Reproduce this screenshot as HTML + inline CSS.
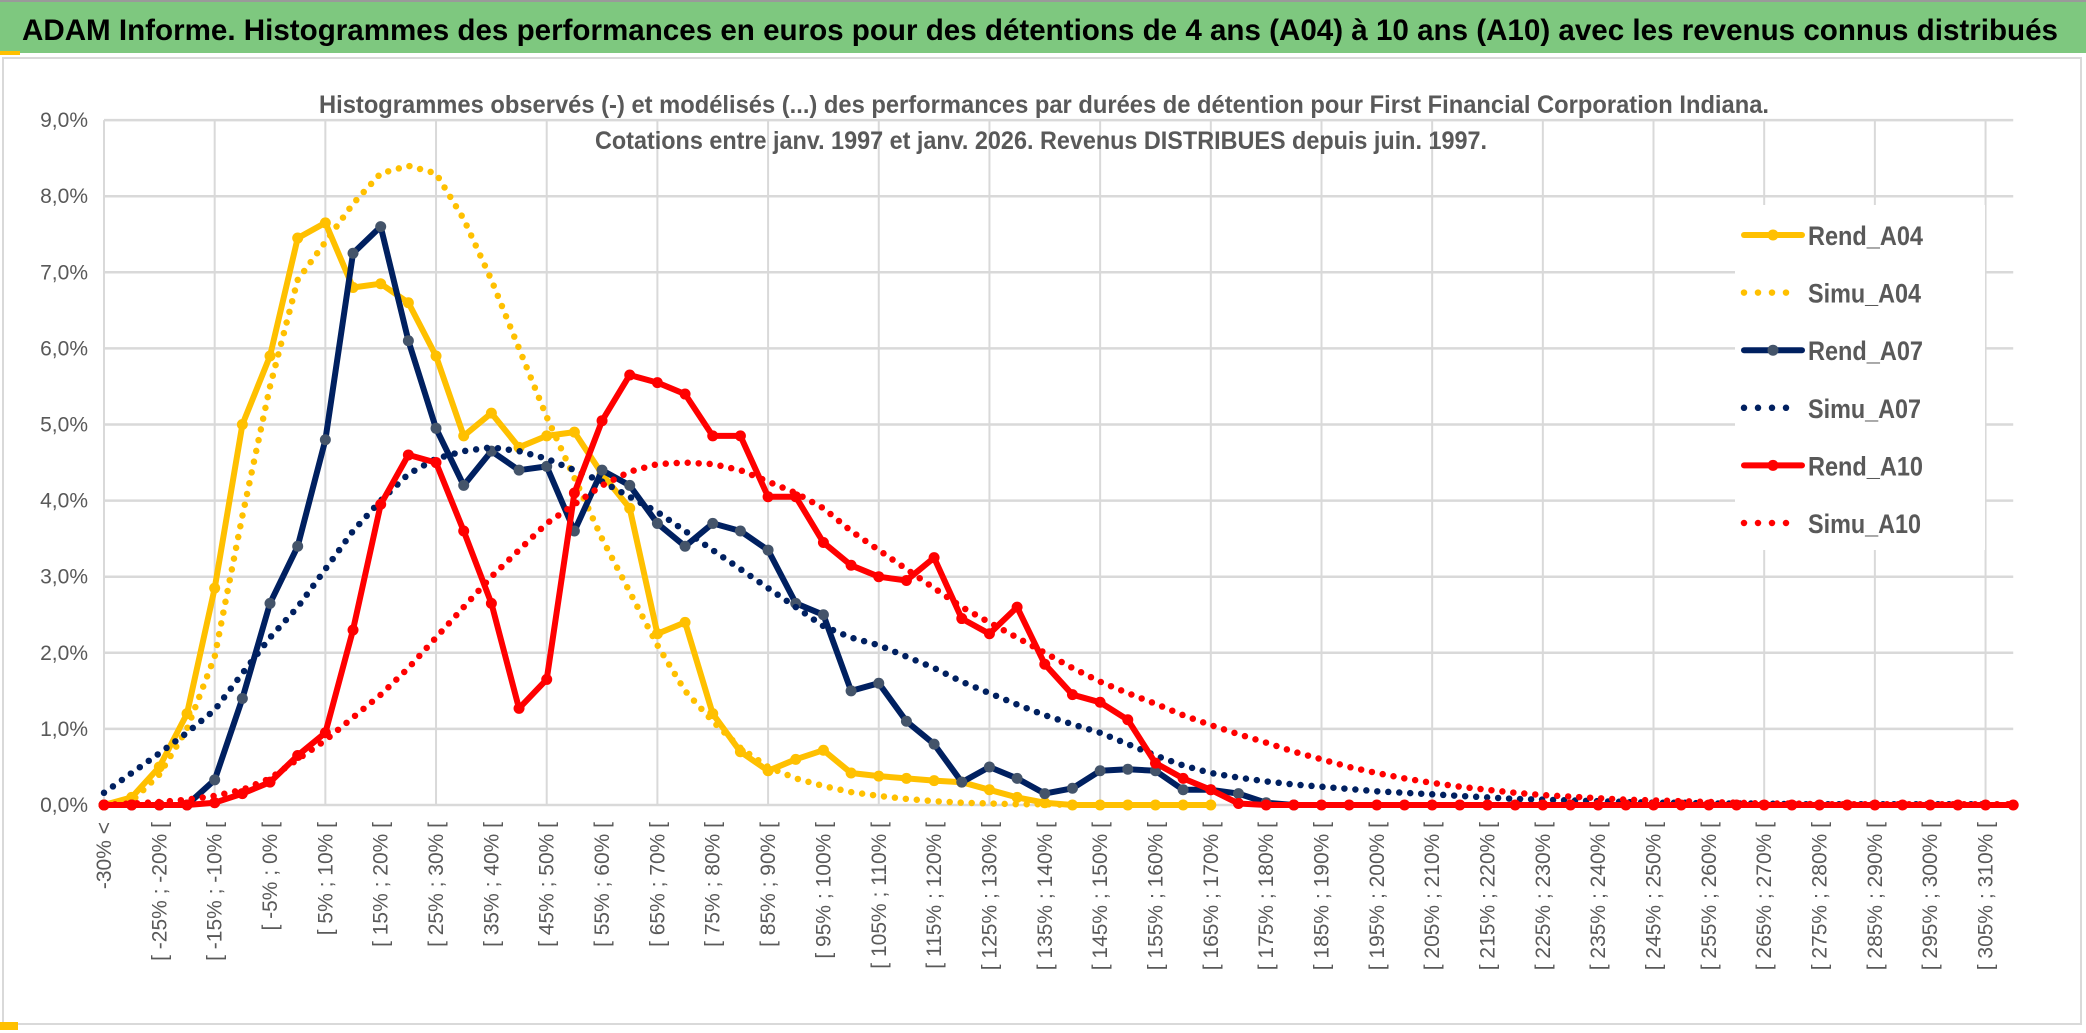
<!DOCTYPE html>
<html><head><meta charset="utf-8"><style>
html,body{margin:0;padding:0;background:#fff;}
svg{display:block;}
text{font-family:"Liberation Sans Narrow","Liberation Sans",sans-serif;}
</style></head><body>
<svg id="chart" width="2086" height="1033" viewBox="0 0 2086 1033" xmlns="http://www.w3.org/2000/svg">
<rect x="0" y="0" width="2086" height="1033" fill="#fff"/>
<rect x="0" y="0" width="2086" height="2" fill="#9a9a9a"/>
<rect x="0" y="2" width="2086" height="51" fill="#7ec87f"/>
<rect x="0" y="51" width="20" height="4" fill="#ffc000"/>
<text x="1040" y="40" text-anchor="middle" font-size="30" font-weight="bold" fill="#000" textLength="2036" lengthAdjust="spacingAndGlyphs">ADAM Informe. Histogrammes des performances en euros pour des détentions de 4 ans (A04) à 10 ans (A10) avec les revenus connus distribués</text>
<rect x="3" y="58" width="2078" height="966" fill="#fff" stroke="#d9d9d9" stroke-width="2"/>
<g id="grid"></g>
<text x="1044" y="113" text-anchor="middle" font-size="25" font-weight="bold" fill="#595959" textLength="1450" lengthAdjust="spacingAndGlyphs">Histogrammes observés (-) et modélisés (...) des performances par durées de détention pour First Financial Corporation Indiana.</text>
<text x="1041" y="149" text-anchor="middle" font-size="25" font-weight="bold" fill="#595959" textLength="892" lengthAdjust="spacingAndGlyphs">Cotations entre janv. 1997 et janv. 2026. Revenus DISTRIBUES depuis juin. 1997.</text>
<g id="yaxis"></g>
<g id="xaxis"></g>
<g id="series"></g>
<g id="legend"></g>
<rect x="0" y="1022" width="18" height="8" fill="#ffc000"/>
</svg>
<script>
const categoryStarts = [];
for (let v = -30; v <= 310; v += 5) categoryStarts.push(v);
const yTicks = [0,1,2,3,4,5,6,7,8,9];
const rendA04 = [0,0.1,0.5,1.2,2.85,5.0,5.9,7.45,7.65,6.8,6.85,6.6,5.9,4.85,5.15,4.7,4.85,4.9,4.35,3.9,2.25,2.4,1.2,0.7,0.45,0.6,0.72,0.42,0.38,0.35,0.32,0.3,0.2,0.1,0.03,0,0,0,0,0,0];
const simuA04 = [0,0.05,0.4,1.0,1.95,3.8,5.5,6.9,7.4,7.9,8.3,8.4,8.3,7.7,6.9,6.0,5.1,4.3,3.5,2.8,2.1,1.5,1.1,0.75,0.5,0.35,0.25,0.17,0.12,0.08,0.05,0.03,0.02,0.01,0.01,0];
const rendA07 = [0,0,0,0,0.33,1.4,2.65,3.4,4.8,7.25,7.6,6.1,4.95,4.2,4.65,4.4,4.45,3.6,4.4,4.2,3.7,3.4,3.7,3.6,3.35,2.65,2.5,1.5,1.6,1.1,0.8,0.3,0.5,0.35,0.15,0.22,0.45,0.47,0.45,0.2,0.2,0.15,0.03,0];
const simuA07 = [0.16,0.42,0.68,0.95,1.25,1.73,2.2,2.6,3.1,3.6,4.0,4.35,4.55,4.65,4.7,4.65,4.55,4.4,4.25,4.05,3.85,3.6,3.35,3.1,2.85,2.6,2.35,2.2,2.1,1.95,1.8,1.62,1.47,1.32,1.18,1.06,0.95,0.8,0.65,0.52,0.42,0.36,0.31,0.27,0.24,0.21,0.18,0.16,0.14,0.12,0.1,0.08,0.07,0.06,0.05,0.04,0.03,0.03,0.02,0.02,0.02,0.01,0.01,0.01,0.01,0.01,0.01,0.01,0.01];
const rendA10 = [0,0,0,0,0.03,0.15,0.3,0.65,0.95,2.3,3.95,4.6,4.5,3.6,2.65,1.27,1.65,4.1,5.05,5.65,5.55,5.4,4.85,4.85,4.05,4.05,3.45,3.15,3.0,2.95,3.25,2.45,2.25,2.6,1.85,1.45,1.35,1.12,0.55,0.35,0.2,0.02,0,0,0,0,0,0,0,0,0,0,0,0,0,0,0,0,0,0,0,0,0,0,0,0,0,0,0,0];
const simuA10 = [0,0.02,0.04,0.07,0.12,0.2,0.35,0.6,0.85,1.15,1.45,1.8,2.2,2.6,3.0,3.35,3.7,3.95,4.2,4.38,4.48,4.5,4.48,4.4,4.25,4.1,3.9,3.6,3.35,3.1,2.85,2.6,2.4,2.2,2.0,1.8,1.62,1.47,1.33,1.18,1.05,0.93,0.82,0.7,0.6,0.5,0.42,0.35,0.29,0.24,0.2,0.16,0.13,0.11,0.09,0.07,0.06,0.05,0.04,0.03,0.02,0.02,0.01,0.01,0.01,0.01,0.01,0.01,0.01,0.01];
const seriesNames = ["Rend_A04","Simu_A04","Rend_A07","Simu_A07","Rend_A10","Simu_A10"];

const NS = "http://www.w3.org/2000/svg";
const X0 = 104, STEP = 27.67, Y0 = 805, YPER = 76.1;
const xPos = i => X0 + i * STEP;
const yPos = v => Y0 - v * YPER;
function mk(tag, attrs, parent) {
  const e = document.createElementNS(NS, tag);
  for (const k in attrs) e.setAttribute(k, attrs[k]);
  parent.appendChild(e);
  return e;
}
const nCat = categoryStarts.length; // 69 + one extra
const lastIdx = 69;
const grid = document.getElementById('grid');
yTicks.forEach(t => {
  const l = mk('line', {x1: xPos(0), x2: xPos(lastIdx), y1: yPos(t), y2: yPos(t), stroke: '#d9d9d9', 'stroke-width': 2.5}, grid);
  
  
});
for (let i = 0; i <= 68; i += 4) {
  const l = mk('line', {x1: xPos(i), x2: xPos(i), y1: yPos(9), y2: yPos(0), stroke: '#d9d9d9', 'stroke-width': 2}, grid);
  
  
}
const yaxis = document.getElementById('yaxis');
yTicks.forEach(t => {
  const tx = mk('text', {x: 88, y: yPos(t) + 7, 'text-anchor': 'end', 'font-size': 21, fill: '#595959'}, yaxis);
  tx.textContent = t.toFixed(1).replace('.', ',') + '%';
  
  
});
const xaxis = document.getElementById('xaxis');
for (let i = 0; i <= 68; i += 2) {
  let label;
  if (i === 0) label = '-30% <';
  else { const a = categoryStarts[i - 1]; label = '[ ' + a + '% ; ' + (a + 5) + '% ['; }
  const x = xPos(i) + 7, y = 822;
  const tx = mk('text', {x: x, y: y, 'text-anchor': 'end', 'font-size': 21, fill: '#595959', transform: 'rotate(-90 ' + x + ' ' + y + ')', style: 'font-family:"Liberation Sans",sans-serif'}, xaxis);
  tx.textContent = label;
  
  
}
const sg = document.getElementById('series');
function pts(arr) { return arr.map((v, i) => xPos(i).toFixed(1) + ',' + yPos(v).toFixed(1)).join(' '); }
function dotted(arr, color, name) {
  const p = mk('polyline', {points: pts(arr), fill: 'none', stroke: color, 'stroke-width': 6.5, 'stroke-linecap': 'round', 'stroke-dasharray': '0 11'}, sg);
  
  
}
function solid(arr, color, mcolor, name) {
  const p = mk('polyline', {points: pts(arr), fill: 'none', stroke: color, 'stroke-width': 6, 'stroke-linejoin': 'round', 'stroke-linecap': 'round'}, sg);
  
  
  arr.forEach((v, i) => {
    const c = mk('circle', {cx: xPos(i), cy: yPos(v), r: 5.5, fill: mcolor}, sg);
    
    
  });
}
solid(rendA04, '#ffc000', '#ffc000', 'rend-a04-line');
dotted(simuA04, '#ffc000', 'simu-a04-line');
solid(rendA07, '#002060', '#44546a', 'rend-a07-line');
dotted(simuA07, '#002060', 'simu-a07-line');
dotted(simuA10, '#ff0000', 'simu-a10-line');
solid(rendA10, '#ff0000', '#ff0000', 'rend-a10-line');

const lg = document.getElementById('legend');
const box = mk('rect', {x: 1735, y: 205, width: 250, height: 345, fill: '#fff'}, lg);


const legColors = ['#ffc000','#ffc000','#002060','#002060','#ff0000','#ff0000'];
const legMark = ['#ffc000','#ffc000','#44546a','#44546a','#ff0000','#ff0000'];
seriesNames.forEach((nm, k) => {
  const y = 235 + k * 57.6;
  const g = mk('g', {}, lg);
  
  
  if (k % 2 === 0) {
    mk('line', {x1: 1744, x2: 1802, y1: y, y2: y, stroke: legColors[k], 'stroke-width': 6, 'stroke-linecap': 'round'}, g);
    mk('circle', {cx: 1773, cy: y, r: 5.5, fill: legMark[k]}, g);
  } else {
    mk('line', {x1: 1744, x2: 1800, y1: y, y2: y, stroke: legColors[k], 'stroke-width': 6.5, 'stroke-linecap': 'round', 'stroke-dasharray': '0 14'}, g);
  }
  const t = mk('text', {x: 1808, y: y + 10, 'font-size': 27, 'font-weight': 'bold', fill: '#595959', textLength: nm.startsWith('Rend') ? 115 : 113, lengthAdjust: 'spacingAndGlyphs'}, g);
  t.textContent = nm;
});
</script>
</body></html>
